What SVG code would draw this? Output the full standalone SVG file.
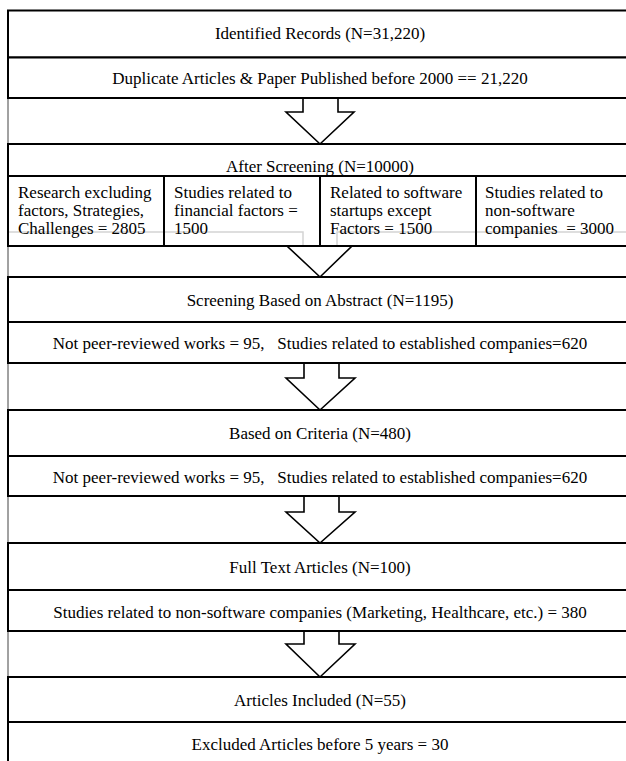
<svg xmlns="http://www.w3.org/2000/svg" width="626" height="761" viewBox="0 0 626 761">
<style>
.box{fill:#fff;stroke:#000;stroke-width:2}
.div{stroke:#000;stroke-width:2;fill:none}
.arr{fill:#fff;stroke:#000;stroke-width:1.6;stroke-linejoin:miter}
.ghost{fill:none;stroke:#d4d4d4;stroke-width:1.5}
.gap{stroke:#444;stroke-width:1}
text{font-family:"Liberation Serif","Times New Roman",serif;font-size:17px;fill:#000}
.c{text-anchor:middle}
</style>
<rect width="626" height="761" fill="#fff"/>
<g id="connectors">
  <line class="gap" x1="8" y1="98" x2="8" y2="144"/>
  <line class="gap" x1="8" y1="246" x2="8" y2="277"/>
  <line class="gap" x1="8" y1="363" x2="8" y2="410"/>
  <line class="gap" x1="8" y1="496" x2="8" y2="543"/>
  <line class="gap" x1="8" y1="631" x2="8" y2="677"/>
  <polygon class="arr" points="303,98 338,98 338,112 354,112 320,144 286,112 303,112"/>
  <polygon class="arr" points="287,246 352,246 320,277"/>
  <polygon class="arr" points="304,363 339,363 339,378 355,378 320,410 286,378 304,378"/>
  <polygon class="arr" points="304,496 339,496 339,512 355,512 320,543 286,512 304,512"/>
  <polygon class="arr" points="304,631 339,631 339,644 355,644 320,677 286,644 304,644"/>
</g>
<g id="n1">
  <rect class="box" x="8" y="10.5" width="624" height="47"/>
  <text class="c" x="320" y="39">Identified Records (N=31,220)</text>
</g>
<g id="n2">
  <rect class="box" x="8" y="57.5" width="624" height="40.5"/>
  <text class="c" x="320" y="84">Duplicate Articles &amp; Paper Published before 2000 == 21,220</text>
</g>
<g id="n3">
  <rect class="box" x="8" y="144" width="624" height="32"/>
  <text class="c" x="320" y="172">After Screening (N=10000)</text>
</g>
<g id="n3-subs">
  <polyline class="ghost" points="8,232 303,232 303,246"/>
  <polyline class="ghost" points="632,232 337,232 337,246"/>
  <rect class="box" x="8" y="176" width="624" height="70" fill="none" style="fill:none"/>
  <line class="div" x1="164" y1="176" x2="164" y2="246"/>
  <line class="div" x1="320" y1="176" x2="320" y2="246"/>
  <line class="div" x1="476" y1="176" x2="476" y2="246"/>
  <text x="18" y="198">Research excluding</text>
  <text x="18" y="216">factors, Strategies,</text>
  <text x="18" y="234">Challenges = 2805</text>
  <text x="174" y="198">Studies related to</text>
  <text x="174" y="216">financial factors  =</text>
  <text x="174" y="234">1500</text>
  <text x="330" y="198">Related to software</text>
  <text x="330" y="216">startups except</text>
  <text x="330" y="234">Factors = 1500</text>
  <text x="485" y="198">Studies related to</text>
  <text x="485" y="216">non-software</text>
  <text x="485" y="234" xml:space="preserve">companies  = 3000</text>
</g>
<g id="n4">
  <rect class="box" x="8" y="277" width="624" height="45"/>
  <text class="c" x="320" y="306">Screening Based on Abstract (N=1195)</text>
</g>
<g id="n5">
  <rect class="box" x="8" y="322" width="624" height="41"/>
  <text class="c" x="320" y="349" xml:space="preserve">Not peer-reviewed works = 95,   Studies related to established companies=620</text>
</g>
<g id="n6">
  <rect class="box" x="8" y="410" width="624" height="46"/>
  <text class="c" x="320" y="439">Based on Criteria (N=480)</text>
</g>
<g id="n7">
  <rect class="box" x="8" y="456" width="624" height="40"/>
  <text class="c" x="320" y="483" xml:space="preserve">Not peer-reviewed works = 95,   Studies related to established companies=620</text>
</g>
<g id="n8">
  <rect class="box" x="8" y="543" width="624" height="47"/>
  <text class="c" x="320" y="573">Full Text Articles (N=100)</text>
</g>
<g id="n9">
  <rect class="box" x="8" y="590" width="624" height="41"/>
  <text class="c" x="320" y="618">Studies related to non-software companies (Marketing, Healthcare, etc.) = 380</text>
</g>
<g id="n10">
  <rect class="box" x="8" y="677" width="624" height="45"/>
  <text class="c" x="320" y="706">Articles Included (N=55)</text>
</g>
<g id="n11">
  <rect class="box" x="8" y="722" width="624" height="60"/>
  <text class="c" x="320" y="750">Excluded Articles before 5 years = 30</text>
</g>
</svg>
